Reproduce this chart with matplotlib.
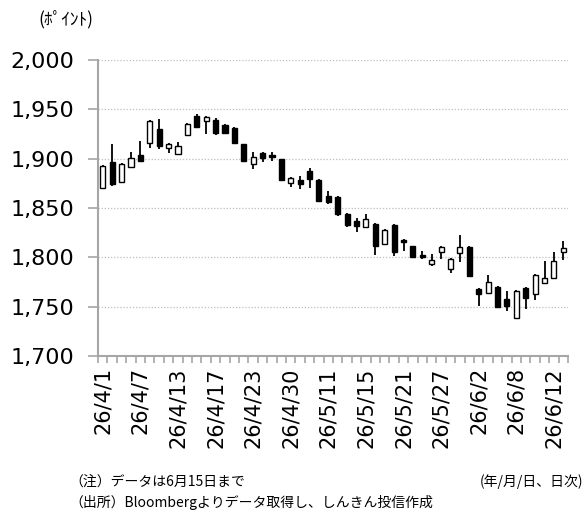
import matplotlib
matplotlib.use("Agg")
import matplotlib.pyplot as plt
from matplotlib.ticker import FixedLocator, FuncFormatter

plt.rcParams['font.family'] = ['DejaVu Sans', 'Noto Sans CJK JP']

# 営業日（26/4/1〜26/6/15）
dates = [
    "26/4/1", "26/4/2", "26/4/3", "26/4/6", "26/4/7", "26/4/8", "26/4/9", "26/4/10",
    "26/4/13", "26/4/14", "26/4/15", "26/4/16", "26/4/17", "26/4/20", "26/4/21",
    "26/4/22", "26/4/23", "26/4/24", "26/4/27", "26/4/28", "26/4/30",
    "26/5/1", "26/5/7", "26/5/8", "26/5/11", "26/5/12", "26/5/13", "26/5/14",
    "26/5/15", "26/5/18", "26/5/19", "26/5/20", "26/5/21", "26/5/22", "26/5/25",
    "26/5/26", "26/5/27", "26/5/28", "26/5/29",
    "26/6/1", "26/6/2", "26/6/3", "26/6/4", "26/6/5", "26/6/8", "26/6/9",
    "26/6/10", "26/6/11", "26/6/12", "26/6/15",
]

opens = [1870, 1897, 1876, 1892, 1904, 1916, 1930, 1911, 1905, 1924,
         1943, 1938, 1939, 1934, 1931, 1915, 1895, 1906, 1904, 1900,
         1875, 1878, 1887, 1878, 1862, 1861, 1844, 1837, 1831, 1834,
         1814, 1833, 1818, 1811, 1802, 1793, 1805, 1788, 1804, 1810,
         1768, 1764, 1770, 1758, 1739, 1769, 1763, 1774, 1779, 1805]
highs = [1894, 1915, 1896, 1907, 1918, 1939, 1940, 1916, 1917, 1936,
         1945, 1943, 1941, 1935, 1932, 1915, 1907, 1907, 1907, 1900,
         1881, 1882, 1891, 1879, 1867, 1862, 1845, 1840, 1844, 1835,
         1829, 1834, 1819, 1812, 1806, 1803, 1811, 1799, 1823, 1811,
         1769, 1782, 1771, 1766, 1767, 1770, 1783, 1796, 1805, 1817]
lows = [1869, 1872, 1875, 1891, 1897, 1911, 1910, 1906, 1904, 1923,
        1931, 1925, 1924, 1925, 1915, 1897, 1890, 1897, 1898, 1877,
        1871, 1869, 1870, 1856, 1854, 1842, 1831, 1826, 1830, 1802,
        1813, 1801, 1806, 1799, 1798, 1791, 1798, 1784, 1795, 1780,
        1751, 1763, 1749, 1746, 1738, 1748, 1757, 1773, 1778, 1797]
closes = [1893, 1874, 1895, 1901, 1898, 1938, 1913, 1915, 1913, 1935,
          1932, 1942, 1926, 1926, 1916, 1898, 1902, 1901, 1902, 1878,
          1880, 1874, 1879, 1857, 1856, 1844, 1833, 1832, 1839, 1812,
          1828, 1805, 1816, 1800, 1800, 1797, 1810, 1798, 1810, 1781,
          1763, 1775, 1750, 1751, 1766, 1759, 1782, 1779, 1796, 1809]

y_ticks = [1700, 1750, 1800, 1850, 1900, 1950, 2000]
label_step = 4

GRAY = "#a6a6a6"

fig = plt.figure(figsize=(5.88, 5.15), dpi=100)
ax = fig.add_axes([0.1667, 0.3087, 0.7993, 0.5748])

x = list(range(len(dates)))

# ヒゲ
ax.vlines(x, lows, highs, color="black", linewidth=1.3, zorder=2)

# 実体（陽線は白、陰線は黒）
bottoms = [min(o, c) for o, c in zip(opens, closes)]
heights = [max(abs(c - o), 0.8) for o, c in zip(opens, closes)]
faces = ["white" if c >= o else "black" for o, c in zip(opens, closes)]
ax.bar(x, heights, bottom=bottoms, width=0.55, color=faces,
       edgecolor="black", linewidth=1.0, zorder=3)

ax.set_xlim(-0.5, len(dates) - 0.5)
ax.set_ylim(1700, 2000)

# 目盛り
ax.set_yticks(y_ticks)
ax.yaxis.set_major_formatter(FuncFormatter(lambda v, p: f"{int(v):,}"))
ax.grid(axis="y", linestyle=(0, (1, 1.5)), color="#bfbfbf", linewidth=0.9)
ax.set_axisbelow(True)

label_pos = x[::label_step]
ax.set_xticks(label_pos)
ax.set_xticklabels(dates[::label_step], rotation=90)
ax.xaxis.set_minor_locator(FixedLocator([i - 0.5 for i in range(len(dates) + 1)]))
ax.tick_params(axis="x", which="major", length=0, pad=8, labelsize=15)
ax.tick_params(axis="x", which="minor", length=5, color=GRAY, width=1.2)
ax.tick_params(axis="y", which="major", length=7, color=GRAY, width=1.2,
               labelsize=16, pad=10)

for side in ["top", "right"]:
    ax.spines[side].set_visible(False)
for side in ["left", "bottom"]:
    ax.spines[side].set_color(GRAY)
    ax.spines[side].set_linewidth(1.5)

# 注記
jp = ['Noto Sans CJK JP', 'DejaVu Sans']
fig.text(0.066, 0.963, "(ﾎﾟｲﾝﾄ)", fontsize=12.5, family=jp, va="center")
fig.text(0.118, 0.064, "（注）データは6月15日まで", fontsize=10, family=jp, va="center")
fig.text(0.992, 0.064, "(年/月/日、日次)", fontsize=10, family=jp, va="center", ha="right")
fig.text(0.118, 0.024, "（出所）Bloombergよりデータ取得し、しんきん投信作成", fontsize=10,
         family=jp, va="center")

fig.savefig("out.png", dpi=100)
